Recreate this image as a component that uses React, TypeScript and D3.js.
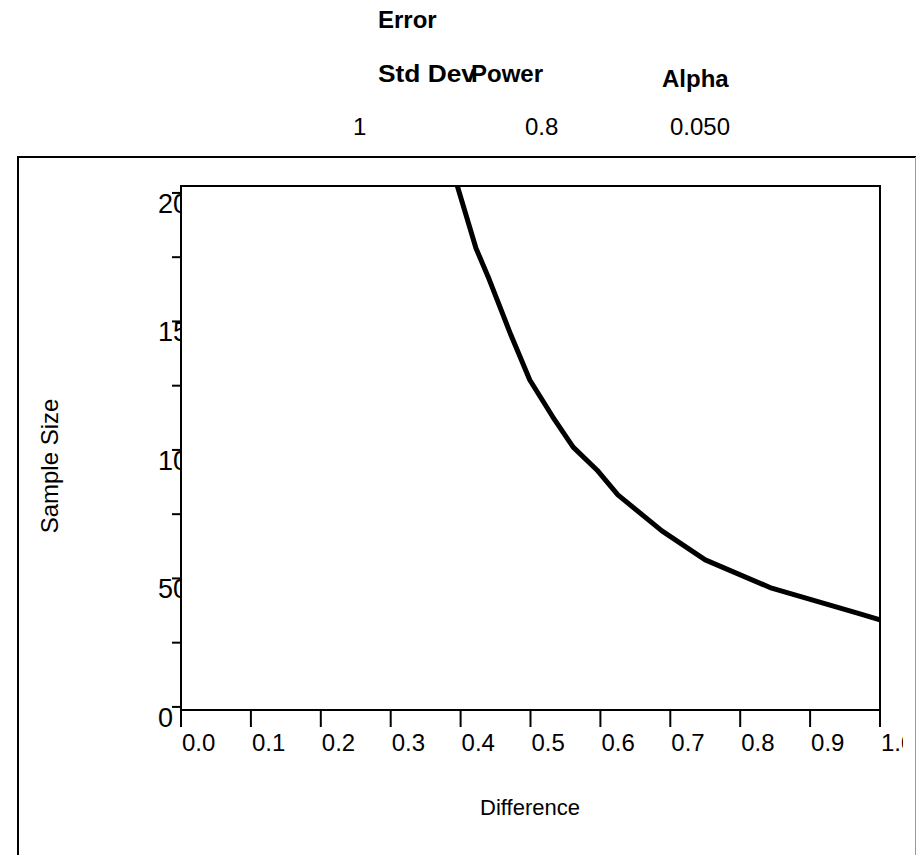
import React, { useEffect, useRef } from 'react';
import * as d3 from 'd3';

// Power curve: difference vs sample size (Std Dev 1, Power 0.8, Alpha 0.05)
const differences = [0.395, 0.422, 0.441, 0.472, 0.499, 0.532, 0.561, 0.595, 0.625, 0.688, 0.75, 0.845, 0.969, 1.0];
const sampleSizes = [203, 178.5, 166.3, 144.7, 127.2, 112.8, 101.1, 92.2, 82.5, 68.5, 57.2, 46.2, 36.4, 33.9];

const xTicks = [0, 0.1, 0.2, 0.3, 0.4, 0.5, 0.6, 0.7, 0.8, 0.9, 1.0];
const yMajorTicks = [0, 50, 100, 150, 200];
const yMinorTicks = [25, 75, 125, 175];

const headerLabels = ['Error', 'Std Dev', 'Power', 'Alpha'];
const headerValues = ['1', '0.8', '0.050'];

const FONT = "'Liberation Sans', Arial, Helvetica, sans-serif";

const App = () => {
  const svgRef = useRef<SVGSVGElement | null>(null);

  useEffect(() => {
    if (!svgRef.current) return;
    const svg = d3.select(svgRef.current);
    svg.selectAll('*').remove();

    const plot = { left: 181, right: 880, top: 186, bottom: 710 };

    const x = d3.scaleLinear().domain([0, 1]).range([plot.left, plot.right]);
    const y = d3.scaleLinear().domain([-1.2, 202.7]).range([plot.bottom, plot.top]);

    const defs = svg.append('defs');
    defs.append('clipPath').attr('id', 'plot-clip')
      .append('rect')
      .attr('x', plot.left).attr('y', plot.top)
      .attr('width', plot.right - plot.left).attr('height', plot.bottom - plot.top);
    defs.append('clipPath').attr('id', 'ylab-clip')
      .append('rect').attr('x', 0).attr('y', 0).attr('width', plot.left).attr('height', 855);
    defs.append('clipPath').attr('id', 'xlab-clip')
      .append('rect').attr('x', 0).attr('y', 0).attr('width', 903).attr('height', 855);

    // outer frame
    svg.append('line').attr('x1', 18).attr('x2', 18).attr('y1', 157).attr('y2', 855)
      .attr('stroke', '#000').attr('stroke-width', 2);
    svg.append('line').attr('x1', 17).attr('x2', 916).attr('y1', 157).attr('y2', 157)
      .attr('stroke', '#000').attr('stroke-width', 2);
    svg.append('line').attr('x1', 915.5).attr('x2', 915.5).attr('y1', 157).attr('y2', 855)
      .attr('stroke', '#999').attr('stroke-width', 1);

    // header table
    const header = svg.append('g').attr('font-family', FONT).attr('fill', '#000');
    header.append('text').attr('x', 378).attr('y', 28).attr('font-size', 24).attr('font-weight', 'bold').text(headerLabels[0]);
    header.append('text').attr('x', 378).attr('y', 82).attr('font-size', 24).attr('font-weight', 'bold')
      .attr('textLength', 98).attr('lengthAdjust', 'spacingAndGlyphs').text(headerLabels[1]);
    header.append('text').attr('x', 471).attr('y', 82).attr('font-size', 24).attr('font-weight', 'bold').text(headerLabels[2]);
    header.append('text').attr('x', 662).attr('y', 87).attr('font-size', 24).attr('font-weight', 'bold').text(headerLabels[3]);
    const valueX = [353, 525, 670];
    headerValues.forEach((v, i) => {
      header.append('text').attr('x', valueX[i]).attr('y', 135).attr('font-size', 24).text(v);
    });

    // y tick labels (clipped at the plot edge)
    svg.append('g').attr('clip-path', 'url(#ylab-clip)')
      .selectAll('text').data(yMajorTicks).join('text')
      .attr('x', 158).attr('y', d => y(d) + 20)
      .attr('font-family', FONT).attr('font-size', 27)
      .text(d => d);

    // y ticks
    svg.append('g').selectAll('line').data([...yMajorTicks, ...yMinorTicks]).join('line')
      .attr('x1', plot.left - 9).attr('x2', plot.left)
      .attr('y1', d => y(d)).attr('y2', d => y(d))
      .attr('stroke', '#000').attr('stroke-width', 2);

    // x ticks + labels
    svg.append('g').selectAll('line').data(xTicks).join('line')
      .attr('x1', d => x(d)).attr('x2', d => x(d))
      .attr('y1', plot.bottom).attr('y2', plot.bottom + 17)
      .attr('stroke', '#000').attr('stroke-width', 2);
    svg.append('g').attr('clip-path', 'url(#xlab-clip)')
      .selectAll('text').data(xTicks).join('text')
      .attr('x', d => x(d) + 1).attr('y', 751)
      .attr('font-family', FONT).attr('font-size', 24)
      .text(d => d3.format('.1f')(d));

    // curve
    const pts = differences.map((d, i) => [d, sampleSizes[i]] as [number, number]);
    svg.append('path')
      .datum(pts)
      .attr('clip-path', 'url(#plot-clip)')
      .attr('d', d3.line<[number, number]>().x(d => x(d[0])).y(d => y(d[1])))
      .attr('fill', 'none').attr('stroke', '#000').attr('stroke-width', 5)
      .attr('stroke-linejoin', 'round');

    // plot frame
    svg.append('rect')
      .attr('x', plot.left).attr('y', plot.top)
      .attr('width', plot.right - plot.left).attr('height', plot.bottom - plot.top)
      .attr('fill', 'none').attr('stroke', '#000').attr('stroke-width', 2);

    // axis titles
    svg.append('text')
      .attr('transform', 'translate(58,466) rotate(-90)')
      .attr('text-anchor', 'middle')
      .attr('font-family', FONT).attr('font-size', 24)
      .text('Sample Size');
    svg.append('text')
      .attr('x', 530).attr('y', 815)
      .attr('text-anchor', 'middle')
      .attr('font-family', FONT).attr('font-size', 22)
      .text('Difference');
  }, []);

  return (
    <svg ref={svgRef} width={917} height={855}
      style={{ position: 'absolute', left: 0, top: 0, background: '#fff' }} />
  );
};

export default App;
